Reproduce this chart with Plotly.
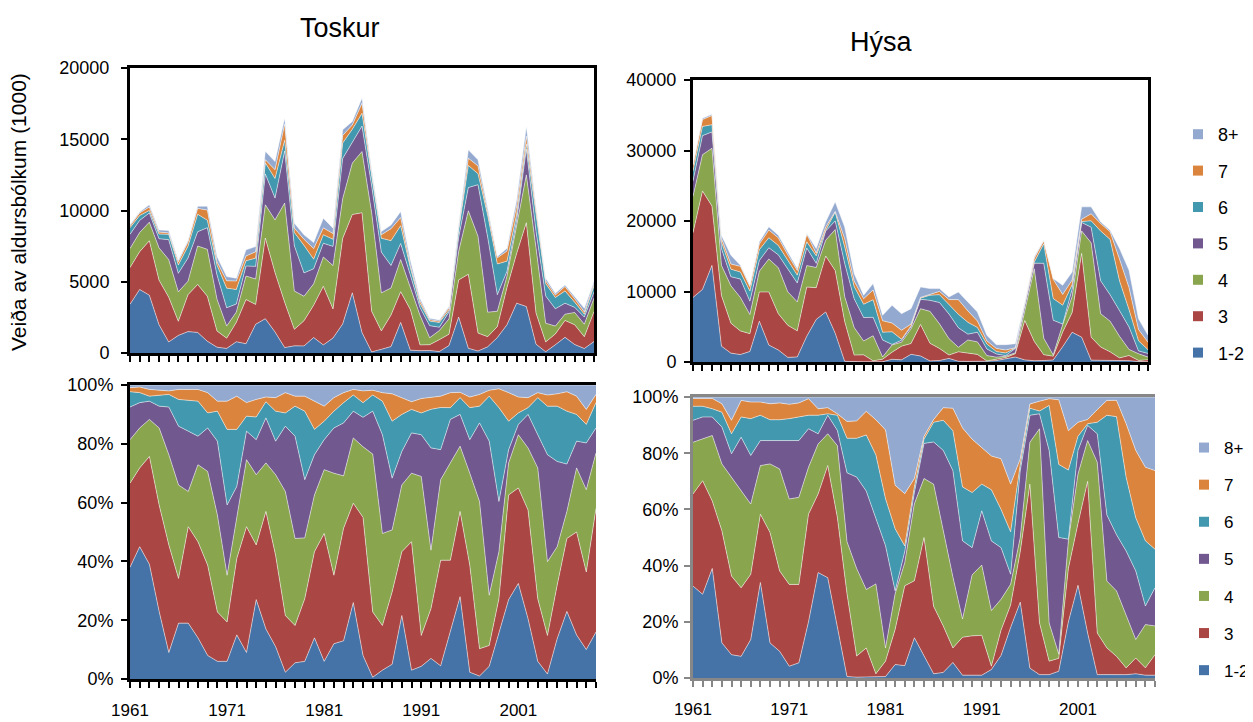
import plotly.graph_objects as go

years = list(range(1961, 2010))
age_labels = ["1-2", "3", "4", "5", "6", "7", "8+"]
age_colors = ["#4573A7", "#AA4643", "#89A54E", "#71588F", "#4198AF", "#DB843D", "#93A9CF"]
year_labels = {1961: "1961", 1971: "1971", 1981: "1981", 1991: "1991", 2001: "2001"}

# Toskur (cod) catch by age group, thousands
tos_12 = [3420, 4455, 4056, 1987, 774, 1235, 1501, 1442, 824, 406, 322, 788, 652, 2017, 2406, 1478, 379, 501, 497, 1085,
          568, 1051, 2037, 4225, 1431, 77, 256, 450, 2145, 196, 165, 171, 104, 522, 2520, 328, 136, 432, 1083, 1985,
          3494, 3260, 617, 89, 574, 1099, 594, 314, 802]
tos_3 = [2574, 2653, 3817, 3128, 3148, 988, 2591, 3368, 3162, 1137, 718, 1365, 3099, 1389, 5660, 4166, 3183, 1157, 1766, 2271,
         4115, 2041, 6002, 5493, 8408, 2855, 1295, 2212, 2155, 2854, 403, 412, 833, 795, 2610, 5191, 1261, 714, 765, 2617,
         3494, 5883, 2190, 688, 763, 1185, 1386, 829, 2104]
tos_4 = [1332, 1346, 1310, 2264, 2640, 2067, 948, 2699, 3286, 2234, 852, 719, 1651, 1785, 2335, 3696, 6959, 2697, 1716, 1496,
         2053, 3040, 2789, 3608, 4294, 6906, 2667, 1897, 2254, 1521, 2077, 486, 636, 1079, 1998, 4463, 6794, 1719, 1083, 801,
         1946, 3355, 4575, 1318, 549, 440, 863, 879, 947]
tos_5 = [999, 851, 645, 639, 1393, 1300, 1620, 999, 1524, 1699, 1281, 567, 702, 889, 2165, 1532, 3661, 3170, 1641, 1062,
         965, 1349, 2821, 1479, 1789, 1878, 2863, 1582, 1132, 895, 545, 849, 237, 482, 972, 1626, 3621, 5266, 1158, 331,
         376, 1813, 1162, 1911, 1215, 770, 360, 499, 426]
tos_6 = [468, 337, 177, 328, 370, 592, 830, 1226, 525, 691, 1378, 1019, 369, 575, 778, 1371, 742, 929, 1932, 667,
         596, 499, 1081, 894, 895, 707, 971, 1744, 1251, 522, 284, 320, 332, 130, 513, 1554, 773, 1538, 2160, 713,
         419, 366, 1295, 866, 788, 860, 360, 198, 431]
tos_7 = [126, 188, 239, 138, 103, 221, 292, 412, 711, 230, 515, 593, 333, 448, 226, 618, 1138, 310, 423, 744,
         482, 403, 533, 309, 716, 206, 247, 836, 566, 170, 188, 102, 90, 166, 162, 513, 542, 201, 433, 713,
         581, 541, 175, 200, 176, 315, 246, 160, 140]
tos_8 = [81, 69, 156, 156, 172, 98, 118, 155, 268, 372, 295, 200, 434, 366, 580, 578, 429, 346, 315, 426,
         681, 377, 407, 244, 358, 231, 222, 270, 427, 372, 177, 100, 88, 85, 225, 585, 434, 181, 88, 191,
         441, 684, 267, 179, 126, 110, 150, 261, 160]

# Hýsa (haddock) catch by age group, thousands
hys_12 = [9156, 10299, 13701, 2249, 1257, 1057, 1492, 5794, 2396, 1709, 656, 716, 3646, 6038, 7097, 4090, 96, 38, 28, 33,
          33, 386, 302, 1083, 852, 156, 208, 508, 99, 85, 71, 114, 197, 443, 702, 298, 179, 207, 284, 2178,
          4217, 3522, 264, 239, 224, 193, 195, 62, 38]
hys_3 = [9184, 13962, 8431, 7178, 4242, 3350, 2526, 4141, 7534, 5145, 4545, 3700, 6982, 4508, 7932, 8884, 5655, 941, 985, 133,
         365, 1006, 1948, 1537, 4473, 2498, 1718, 480, 1342, 1193, 1008, 45, 221, 197, 468, 5581, 2743, 829, 545, 2069,
         2812, 11885, 3257, 1889, 1216, 386, 729, 160, 277]
hys_4 = [5152, 5149, 8185, 4282, 5318, 4751, 2723, 2948, 4677, 6530, 4748, 4111, 3044, 2866, 2246, 5816, 3546, 3916, 1970, 3558,
         312, 1022, 563, 2074, 2237, 4528, 3487, 2335, 646, 1849, 1775, 750, 271, 180, 130, 1269, 10303, 2350, 178, 1067,
         2249, 3191, 13382, 4731, 4357, 3059, 859, 947, 387]
hys_5 = [2184, 2696, 2319, 2357, 1273, 2609, 1884, 1517, 1591, 1817, 3249, 2679, 2498, 580, 1312, 1227, 4697, 4079, 3315, 2613,
         2413, 81, 274, 303, 1331, 1562, 3019, 3489, 2763, 826, 1370, 940, 453, 89, 619, 818, 790, 10610, 4914, 65,
         1074, 1189, 2223, 4672, 3740, 3639, 3177, 406, 515]
hys_6 = [1400, 1313, 1019, 953, 1076, 989, 1427, 1534, 1419, 1331, 1218, 1114, 875, 1063, 99, 1227, 2358, 1732, 1894, 2491,
         1107, 1779, 137, 151, 160, 729, 1114, 1311, 1908, 1670, 675, 690, 335, 371, 57, 213, 149, 2765, 3078, 2679,
         639, 132, 902, 7057, 7854, 4218, 2461, 1427, 519]
hys_7 = [784, 968, 1300, 540, 727, 810, 643, 801, 1093, 1079, 797, 663, 1076, 370, 437, 114, 1150, 778, 795, 1390,
         1624, 1248, 1276, 227, 107, 104, 468, 738, 2087, 1619, 923, 455, 443, 418, 52, 128, 522, 415, 2723, 1525,
         639, 330, 990, 1054, 1085, 3075, 3125, 1611, 1061]
hys_8 = [140, 173, 176, 432, 1257, 165, 196, 307, 460, 378, 406, 278, 109, 676, 755, 1363, 1668, 1067, 483, 901,
         776, 2528, 2360, 2195, 1491, 833, 396, 369, 1093, 1278, 1278, 796, 541, 763, 572, 213, 224, 104, 118, 1307,
         1150, 1761, 990, 239, 224, 1530, 2474, 1538, 993]

tos_series = [tos_12, tos_3, tos_4, tos_5, tos_6, tos_7, tos_8]
hys_series = [hys_12, hys_3, hys_4, hys_5, hys_6, hys_7, hys_8]

# the page body has an 8px margin; the figure fills the rest of the 1253x722 window
OFF = 8
W, H = 1253 - OFF, 722 - OFF
def px(x):
    return (x - OFF) / W
def py(y):
    return 1 - (y - OFF) / H

FONT = "Liberation Sans, Arial, sans-serif"
fig = go.Figure()

panels = [("x", "y", tos_series, "tl", False),
          ("x2", "y2", hys_series, "tr", False),
          ("x3", "y3", tos_series, "bl", True),
          ("x4", "y4", hys_series, "br", True)]

for xa, ya, series, grp, pct in panels:
    for k, (lab, col, vals) in enumerate(zip(age_labels, age_colors, series)):
        kw = {}
        if pct and k == 0:
            kw["groupnorm"] = "percent"
        fig.add_trace(go.Scatter(
            x=years, y=vals, xaxis=xa, yaxis=ya, stackgroup=grp, mode="lines",
            line=dict(width=0.6, color="rgba(255,255,255,0.85)"), fillcolor=col,
            name=lab, showlegend=False, hoverinfo="skip", **kw))

# legend entries (square markers)
for leg, xa, ya in [("legend", "x2", "y2"), ("legend2", "x4", "y4")]:
    for lab, col in zip(age_labels[::-1], age_colors[::-1]):
        fig.add_trace(go.Scatter(
            x=[None], y=[None], xaxis=xa, yaxis=ya, mode="markers",
            marker=dict(symbol="square", size=10, color=col),
            name=lab, legend=leg, legendgroup=leg + lab, showlegend=True))

def xaxis(dom, color, labels, anchor):
    d = dict(domain=dom, range=[1961, 2009], tickvals=years, anchor=anchor,
             ticks="outside", ticklen=6, tickwidth=2, tickcolor=color,
             showline=True, linecolor=color, linewidth=3, mirror=True,
             showgrid=False, zeroline=False, automargin=False,
             tickfont=dict(family=FONT, size=17, color="black"))
    if labels:
        d["ticktext"] = [year_labels.get(y, "") for y in years]
        d["showticklabels"] = True
        d["ticklabelstandoff"] = 8
    else:
        d["showticklabels"] = False
    return d

def yaxis(dom, color, rng, tvals, ttext, anchor, mirror, standoff):
    return dict(domain=dom, range=rng, tickvals=tvals, ticktext=ttext, anchor=anchor,
                ticks="outside", ticklen=6, tickwidth=2, tickcolor=color,
                showline=True, linecolor=color, linewidth=3, mirror=mirror,
                showgrid=False, zeroline=False, ticklabelstandoff=standoff, automargin=False,
                tickfont=dict(family=FONT, size=18, color="black"))

pct_vals = [0, 20, 40, 60, 80, 100]
pct_text = [f"{v}%" for v in pct_vals]

fig.update_layout(
    width=W, height=H, margin=dict(l=0, r=0, t=0, b=0, autoexpand=False),
    paper_bgcolor="white", plot_bgcolor="white",
    xaxis=xaxis([px(130), px(594)], "black", False, "y"),
    yaxis=yaxis([py(353), py(68)], "black", [0, 20000], [0, 5000, 10000, 15000, 20000],
                ["0", "5000", "10000", "15000", "20000"], "x", True, 8),
    xaxis2=xaxis([px(693), px(1148)], "black", False, "y2"),
    yaxis2=yaxis([py(362), py(80)], "black", [0, 40000], [0, 10000, 20000, 30000, 40000],
                 ["0", "10000", "20000", "30000", "40000"], "x2", True, 4),
    xaxis3=xaxis([px(130), px(596)], "black", True, "y3"),
    yaxis3=yaxis([py(679), py(385)], "black", [0, 100], pct_vals, pct_text, "x3", False, 4),
    xaxis4=xaxis([px(693), px(1155)], "#878787", True, "y4"),
    yaxis4=yaxis([py(678), py(397)], "#878787", [0, 100], pct_vals, pct_text, "x4", False, 2),
    legend=dict(x=px(1178), y=py(116), xanchor="left", yanchor="top",
                font=dict(family=FONT, size=18, color="black"), tracegroupgap=10,
                traceorder="grouped", bgcolor="rgba(0,0,0,0)"),
    legend2=dict(x=px(1184), y=py(430), xanchor="left", yanchor="top",
                 font=dict(family=FONT, size=17, color="black"), tracegroupgap=12,
                 traceorder="grouped", bgcolor="rgba(0,0,0,0)"),
    annotations=[
        dict(text="Toskur", x=px(340), y=py(28), xref="paper", yref="paper", showarrow=False,
             xanchor="center", yanchor="middle",
             font=dict(family=FONT, size=27, color="black")),
        dict(text="Hýsa", x=px(881), y=py(42), xref="paper", yref="paper", showarrow=False,
             xanchor="center", yanchor="middle",
             font=dict(family=FONT, size=27, color="black")),
        dict(text="Veiða av aldursbólkum (1000)", x=px(18), y=py(212), xref="paper", yref="paper",
             showarrow=False, textangle=-90, xanchor="center", yanchor="middle",
             font=dict(family=FONT, size=21, color="black")),
    ],
)

fig.write_html("out.html")
